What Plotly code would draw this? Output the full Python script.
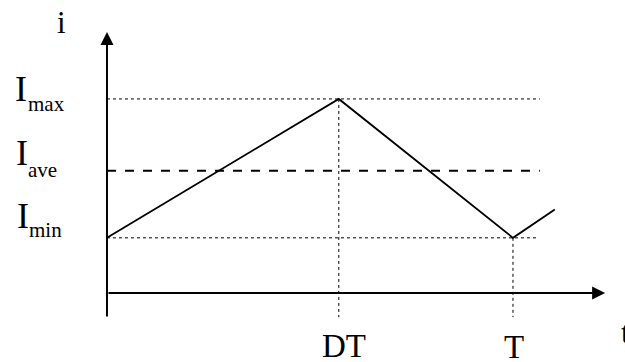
import plotly.graph_objs as go

# waveform values (time in units of T, current in units of Imax)
D = 0.571
I_max = 1.0
I_ave = 0.63
I_min = 0.284

wave_t = [0, D, 1.0, 1.103]
wave_i = [I_min, I_max, I_min, 0.43]

# where the guide lines stop
guide_end_max = 1.066
guide_end_ave = 1.066
guide_end_min = 1.059
guide_bottom = -0.125

# axis extents
x_axis_end = 1.227
y_axis_top = 1.345
y_axis_bottom = -0.129

# level labels: main letter and subscript
level_names = ["max", "ave", "min"]
level_values = [I_max, I_ave, I_min]

font_name = "Liberation Serif, Times New Roman, DejaVu Serif, serif"
black = "#000000"

traces = []

# current waveform
traces.append(go.Scatter(x=wave_t, y=wave_i, mode="lines",
                         line=dict(color=black, width=1.8)))

# Imax / Imin dotted guides
traces.append(go.Scatter(x=[0, guide_end_max], y=[I_max, I_max], mode="lines",
                         line=dict(color=black, width=1, dash="dot")))
traces.append(go.Scatter(x=[0, guide_end_min], y=[I_min, I_min], mode="lines",
                         line=dict(color=black, width=1, dash="dot")))

# Iave dashed line
traces.append(go.Scatter(x=[0, guide_end_ave], y=[I_ave, I_ave], mode="lines",
                         line=dict(color=black, width=2, dash="dash")))

# vertical dotted lines at DT and T
traces.append(go.Scatter(x=[D, D], y=[I_max, guide_bottom], mode="lines",
                         line=dict(color=black, width=1, dash="dot")))
traces.append(go.Scatter(x=[1.0, 1.0], y=[I_min, guide_bottom], mode="lines",
                         line=dict(color=black, width=1, dash="dot")))

fig = go.Figure(data=traces)

annotations = [
    # axes with arrow heads
    dict(x=0, y=y_axis_top, ax=0, ay=y_axis_bottom, xref="x", yref="y",
         axref="x", ayref="y", text="", showarrow=True, arrowhead=2,
         arrowsize=1.3, arrowwidth=2, arrowcolor=black),
    dict(x=x_axis_end, y=0, ax=0, ay=0, xref="x", yref="y",
         axref="x", ayref="y", text="", showarrow=True, arrowhead=2,
         arrowsize=1.3, arrowwidth=2, arrowcolor=black),
]


def label(txt, x, y, size, xa="center"):
    return dict(x=x, y=y, xref="x", yref="y", text=txt, showarrow=False,
                xanchor=xa, yanchor="middle", borderpad=0, borderwidth=0,
                font=dict(family=font_name, size=size, color=black))


annotations.append(label("i", -0.111, 1.395, 31))
annotations.append(label("t", 1.267, -0.202, 32, "left"))
annotations.append(label("DT", D + 0.012, -0.276, 33))
annotations.append(label("T", 1.002, -0.281, 33))

# I with subscript, placed by hand offsets from its level
letter_dx = [-0.2106, -0.2081, -0.2057]
letter_dy = [0.049, 0.089, 0.113]
sub_dx = [-0.1946, -0.1946, -0.1921]
sub_dy = [-0.024, 0.006, 0.038]
for name, val, ldx, ldy, sdx, sdy in zip(level_names, level_values,
                                         letter_dx, letter_dy, sub_dx, sub_dy):
    annotations.append(label("I", ldx, val + ldy, 36))
    annotations.append(label(name, sdx, val + sdy, 21, "left"))

fig.update_layout(
    width=625, height=362,
    margin=dict(l=0, r=0, t=0, b=0),
    plot_bgcolor="white", paper_bgcolor="white",
    showlegend=False,
    font=dict(family=font_name),
    annotations=annotations,
    xaxis=dict(range=[-0.2635, 1.2759], visible=False, fixedrange=True),
    yaxis=dict(range=[-0.356, 1.510], visible=False, fixedrange=True),
)

# the page body has a default 8px margin, drop it so the figure sits at 0,0
fig.write_html("out.html", config=dict(displayModeBar=False),
               post_script="document.body.style.margin='0px';document.body.style.overflow='hidden';")
